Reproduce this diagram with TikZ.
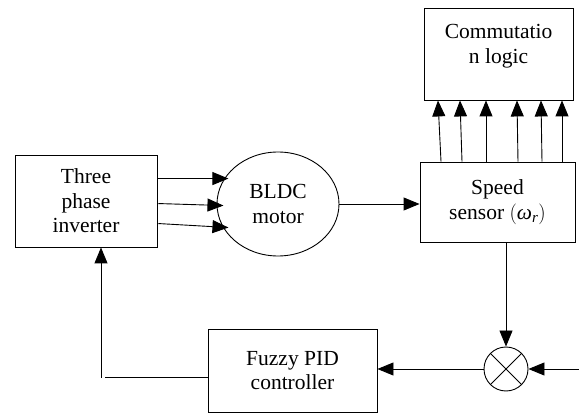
\documentclass[tikz,border=0pt]{standalone}
\usepackage{amsmath}
\usepackage{fontspec}
\setmainfont{Liberation Serif}
\usetikzlibrary{arrows.meta,shapes.geometric,calc}
\begin{document}
\begin{tikzpicture}[x=1pt,y=-1pt,
  every node/.style={font=\fontsize{21.5}{24.5}\selectfont, align=center, inner sep=0pt},
  blockbox/.style={draw, line width=0.9pt, rectangle},
  arr/.style={line width=0.9pt, -{Triangle[length=16pt,width=13pt]}},
  ln/.style={line width=0.9pt}]
\useasboundingbox (0,0) rectangle (579,414);
% blocks
\node[blockbox, minimum width=149pt, minimum height=92pt] (comm) at (498.5,54) {};
\node (commtext) at (498.5,46) {Commutatio\\n logic};
\node[blockbox, minimum width=155pt, minimum height=80pt] (sensor) at (497.5,202) {Speed\\sensor $\left(\text{\itshape ω}_{\text{\itshape r}}\right)$};
\node[blockbox, minimum width=142pt, minimum height=92pt] (inv) at (86,201) {Three\\phase\\inverter};
\node[draw, line width=0.9pt, ellipse, minimum width=122pt, minimum height=104pt] (motor) at (278,204) {BLDC\\motor};
\node[blockbox, minimum width=169pt, minimum height=83pt] (fuzzy) at (292.5,370.5) {Fuzzy PID\\controller};
\node[draw, line width=0.9pt, circle, minimum size=44pt] (sum) at (506,369) {};
\draw[ln] (sum.north west) -- (sum.south east);
\draw[ln] (sum.north east) -- (sum.south west);
% inverter to motor
\draw[arr] ($(inv.north east)+(1,24)$) -- ($(inv.north east)+(71,24)$);
\draw[arr] ($(inv.north east)+(1,49)$) -- ($(inv.north east)+(66,51)$);
\draw[arr] ($(inv.north east)+(1,69)$) -- ($(inv.north east)+(71,73)$);
% motor to sensor
\draw[arr] (motor.east) -- (sensor.west |- motor.east);
% sensor to commutation logic
\foreach \b/\t in {441/438,462/460,486/486,518/517,542/541,562/562}{
  \draw[arr] (sensor.north -| \b,0) -- (comm.south -| \t,0);
}
% sensor to sum
\draw[arr] (sum.north |- sensor.south) -- (sum.north);
% reference input
\coordinate (ref) at (579,369);
\draw[arr] (ref) -- (sum.east);
% sum to fuzzy
\draw[arr] (sum.west) -- (fuzzy.east |- sum.west);
% fuzzy to inverter
\coordinate (fbend) at (105,377);
\coordinate (fup) at (101,378);
\draw[ln] (fuzzy.west |- fbend) -- (fbend);
\draw[arr] (fup) -- (fup |- inv.south);
\end{tikzpicture}
\end{document}
